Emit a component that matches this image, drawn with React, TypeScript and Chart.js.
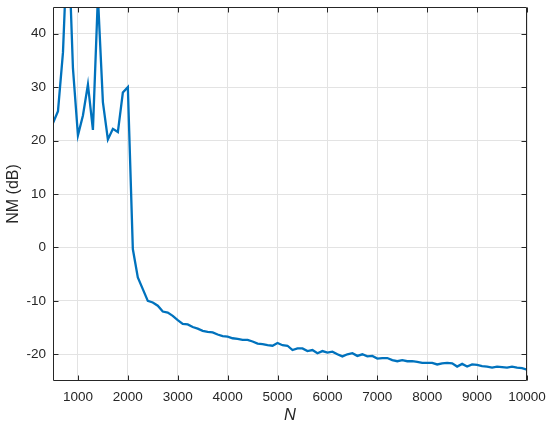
import React, { useEffect, useRef } from "react";
import { Chart, registerables } from "chart.js";

Chart.register(...registerables);

const nValues = [
  500, 600, 700, 800, 900, 1000, 1100, 1200, 1300, 1400, 1500, 1600, 1700, 1800, 1900, 2000,
  2100, 2200, 2300, 2400, 2500, 2600, 2700, 2800, 2900, 3000, 3100, 3200, 3300, 3400, 3500,
  3600, 3700, 3800, 3900, 4000, 4100, 4200, 4300, 4400, 4500, 4600, 4700, 4800, 4900, 5000,
  5100, 5200, 5300, 5400, 5500, 5600, 5700, 5800, 5900, 6000, 6100, 6200, 6300, 6400, 6500,
  6600, 6700, 6800, 6900, 7000, 7100, 7200, 7300, 7400, 7500, 7600, 7700, 7800, 7900, 8000,
  8100, 8200, 8300, 8400, 8500, 8600, 8700, 8800, 8900, 9000, 9100, 9200, 9300, 9400, 9500,
  9600, 9700, 9800, 9900, 10000,
];

const nmValues = [
  23.3, 25.5, 36.5, 60, 33.5, 21, 24.7, 30.5, 22, 47, 27.2, 20.2, 22.2, 21.6, 29, 30,
  -0.3, -5.6, -7.8, -10, -10.3, -10.9, -12, -12.2, -12.8, -13.6, -14.3, -14.4, -14.9, -15.2, -15.6,
  -15.8, -15.9, -16.3, -16.6, -16.7, -17.0, -17.1, -17.3, -17.3, -17.6, -18.0, -18.1, -18.3, -18.4, -17.9,
  -18.3, -18.4, -19.2, -18.9, -18.9, -19.4, -19.2, -19.8, -19.4, -19.7, -19.5, -20.0, -20.4, -20.0, -19.8,
  -20.3, -20.0, -20.4, -20.3, -20.8, -20.7, -20.7, -21.1, -21.3, -21.1, -21.3, -21.3, -21.4, -21.6, -21.6,
  -21.6, -21.9, -21.7, -21.6, -21.7, -22.3, -21.8, -22.3, -21.9, -22.0, -22.2, -22.3, -22.5, -22.3, -22.4,
  -22.5, -22.3, -22.5, -22.6, -22.9,
];

const xTicks = [1000, 2000, 3000, 4000, 5000, 6000, 7000, 8000, 9000, 10000];
const yTicks = [-20, -10, 0, 10, 20, 30, 40];

const FONT = "'Liberation Sans', Arial, Helvetica, sans-serif";
const TEXT = "#262626";

const boxPlugin = {
  id: "matlabBox",
  afterDatasetsDraw(chart: any) {
    const { ctx, chartArea } = chart;
    const { left, right, top, bottom } = chartArea;
    const xs = chart.scales.x;
    const ys = chart.scales.y;
    ctx.save();
    ctx.strokeStyle = TEXT;
    ctx.lineWidth = 1;
    const L = Math.round(left) + 0.5;
    const R = Math.round(right) - 0.5;
    const T = Math.round(top) + 0.5;
    const B = Math.round(bottom) - 0.5;
    ctx.beginPath();
    ctx.rect(L, T, R - L, B - T);
    ctx.stroke();
    const len = 5;
    ctx.beginPath();
    xTicks.forEach((v) => {
      const p = Math.round(xs.getPixelForValue(v)) + 0.5;
      ctx.moveTo(p, B);
      ctx.lineTo(p, B - len);
      ctx.moveTo(p, T);
      ctx.lineTo(p, T + len);
    });
    yTicks.forEach((v) => {
      const p = Math.round(ys.getPixelForValue(v)) + 0.5;
      ctx.moveTo(L, p);
      ctx.lineTo(L + len, p);
      ctx.moveTo(R, p);
      ctx.lineTo(R - len, p);
    });
    ctx.stroke();
    ctx.restore();
  },
};

export default function App() {
  const ref = useRef<HTMLCanvasElement | null>(null);

  useEffect(() => {
    if (!ref.current) return;
    const data = nValues.map((n, i) => ({ x: n, y: nmValues[i] }));
    const chart = new Chart(ref.current, {
      type: "line",
      data: {
        datasets: [
          {
            data,
            borderColor: "#0072BD",
            borderWidth: 2.3,
            pointRadius: 0,
            fill: false,
            tension: 0,
            clip: 0,
          } as any,
        ],
      },
      options: {
        animation: false,
        responsive: false,
        maintainAspectRatio: false,
        layout: { padding: { top: 7, right: 23, left: 0, bottom: 0 } },
        plugins: { legend: { display: false }, tooltip: { enabled: false } },
        scales: {
          x: {
            type: "linear",
            min: 500,
            max: 10000,
            afterBuildTicks: (s: any) => {
              s.ticks = xTicks.map((v) => ({ value: v }));
            },
            afterFit: (s: any) => {
              s.height = 45;
              s.paddingLeft = 0;
              s.paddingRight = 0;
            },
            grid: { color: "#e3e3e3", lineWidth: 1, drawTicks: false },
            border: { display: false },
            ticks: {
              padding: 8,
              color: TEXT,
              maxRotation: 0,
              autoSkip: false,
              font: { family: FONT, size: 13.5 },
              callback: (v: any) => String(v),
            },
            title: {
              display: true,
              text: "N",
              color: TEXT,
              padding: { top: 0, bottom: 1 },
              font: { family: FONT, size: 16.5, style: "italic" },
            },
          },
          y: {
            type: "linear",
            min: -25,
            max: 45,
            afterBuildTicks: (s: any) => {
              s.ticks = yTicks.map((v) => ({ value: v }));
            },
            afterFit: (s: any) => {
              s.width = 53;
              s.paddingTop = 0;
              s.paddingBottom = 0;
            },
            grid: { color: "#e3e3e3", lineWidth: 1, drawTicks: false },
            border: { display: false },
            ticks: {
              padding: 7,
              color: TEXT,
              autoSkip: false,
              font: { family: FONT, size: 13.5 },
              callback: (v: any) => String(v),
            },
            title: {
              display: true,
              text: "NM (dB)",
              color: TEXT,
              padding: { top: 4, bottom: 0 },
              font: { family: FONT, size: 16 },
            },
          },
        },
      },
      plugins: [boxPlugin],
    });
    return () => chart.destroy();
  }, []);

  return (
    <div style={{ position: "fixed", left: 0, top: 0, width: 550, height: 426, background: "#fff" }}>
      <canvas ref={ref} width={550} height={426} style={{ width: 550, height: 426, display: "block" }} />
    </div>
  );
}
